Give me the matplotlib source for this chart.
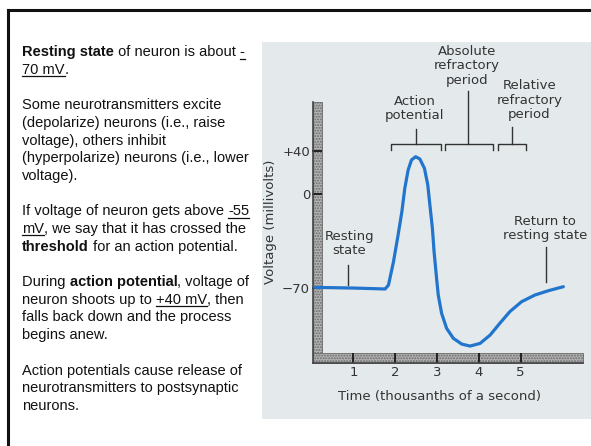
import matplotlib.pyplot as plt
from matplotlib.lines import Line2D
from matplotlib.patches import Rectangle
import numpy as np

# action potential trace
time_ms = [0.08, 1.00, 1.76, 1.84, 1.96, 2.07, 2.16, 2.23, 2.31, 2.39, 2.49, 2.59,
           2.70, 2.78, 2.83, 2.89, 2.93, 2.99, 3.03, 3.11, 3.23, 3.39, 3.59, 3.79,
           4.03, 4.27, 4.50, 4.74, 5.02, 5.34, 5.66, 6.02]
voltage_mv = [-69.5, -70, -70.7, -67.8, -50.4, -30.5, -13.2, 5.2, 22.1, 31.3, 34.3, 32.2,
              23.6, 8.3, -8.2, -25.5, -43, -62.8, -75.2, -88.8, -100, -107.4, -111.7, -113.2,
              -111.2, -105, -96.3, -87.6, -80.2, -75.2, -72, -69]

x_ticks = [1, 2, 3, 4, 5]
y_ticks = [-70, 0, 40]
y_tick_labels = ['\u221270', '0', '+40']

# bracket spans (time) with stem position and stem top (mV)
spans = [(1.91, 3.10, 2.50, 59.8), (3.19, 4.35, 3.75, 94.7), (4.45, 5.12, 4.80, 61.6)]

W, H = 591, 446
fig = plt.figure(figsize=(W / 100, H / 100), dpi=100)
renderer = fig.canvas.get_renderer()


def fx(x):
    return x / W


def fy(y):
    return 1 - y / H


# slide frame
fig.add_artist(Line2D([fx(8), fx(591)], [fy(10), fy(10)], color='#111', lw=2.2))
fig.add_artist(Line2D([fx(8), fx(8)], [fy(10), fy(446)], color='#111', lw=2.2))

# scanned figure background
fig.add_artist(Rectangle((fx(262), fy(419)), (591 - 262) / W, (419 - 42) / H,
                         facecolor='#e4eaec', edgecolor='none', zorder=0))

# left text with bold / underlined runs
lines = [
    [('Resting state', 'b'), (' of neuron is about ', ''), ('-', 'u')],
    [('70 mV', 'u'), ('.', '')],
    [],
    [('Some neurotransmitters excite', '')],
    [('(depolarize) neurons (i.e., raise', '')],
    [('voltage), others inhibit', '')],
    [('(hyperpolarize) neurons (i.e., lower', '')],
    [('voltage).', '')],
    [],
    [('If voltage of neuron gets above ', ''), ('-55', 'u')],
    [('mV', 'u'), (', we say that it has crossed the', '')],
    [('threshold', 'b'), (' for an action potential.', '')],
    [],
    [('During ', ''), ('action potential', 'b'), (', voltage of', '')],
    [('neuron shoots up to ', ''), ('+40 mV', 'u'), (', then', '')],
    [('falls back down and the process', '')],
    [('begins anew.', '')],
    [],
    [('Action potentials cause release of', '')],
    [('neurotransmitters to postsynaptic', '')],
    [('neurons.', '')],
]

y = 56
for parts in lines:
    x = 22
    for s, style in parts:
        t = fig.text(fx(x), fy(y), s, fontsize=10.5, family='Liberation Sans',
                     fontweight='bold' if 'b' in style else 'normal',
                     va='baseline', ha='left', color='#111')
        bb = t.get_window_extent(renderer)
        if 'u' in style:
            fig.add_artist(Line2D([fx(x), fx(x + bb.width)], [fy(y + 2.5), fy(y + 2.5)],
                                  color='#111', lw=0.9))
        x += bb.width
    y += 17.7

# chart
ax = fig.add_axes([311.5 / W, (H - 363) / H, 271.5 / W, 261 / H])
ax.patch.set_visible(False)


def fwd(v):
    v = np.asarray(v, float)
    return np.where(v >= 0, v * 1.0875, v * 1.343)


def inv(p):
    p = np.asarray(p, float)
    return np.where(p >= 0, p / 1.0875, p / 1.343)


# the textbook axis is not to scale: 0..+40 is squeezed relative to -70..0
ax.set_yscale('function', functions=(fwd, inv))
ax.set_xlim(0, 6.49)
ax.set_ylim(-125.8, 84.6)
for sp in ax.spines.values():
    sp.set_visible(False)

# stippled axis bars
ax.add_patch(Rectangle((0.0055, 0), 0.033, 1, transform=ax.transAxes,
                       facecolor='#b4b4b4', edgecolor='#6a6a6a', hatch='......', lw=0.6,
                       clip_on=False, zorder=1))
ax.add_patch(Rectangle((0.0055, 0), 0.9945, 0.0383, transform=ax.transAxes,
                       facecolor='#b4b4b4', edgecolor='#6a6a6a', hatch='......', lw=0.6,
                       clip_on=False, zorder=1))
ax.plot([0.0055, 0.0055], [0, 1], transform=ax.transAxes, color='#444', lw=1.2, clip_on=False)
ax.plot([0.0055, 1], [0, 0], transform=ax.transAxes, color='#444', lw=1.2, clip_on=False)

ax.plot(time_ms, voltage_mv, color='#2275cc', lw=2.3, solid_capstyle='round',
        solid_joinstyle='round', zorder=3, clip_on=False)

ax.set_xticks(x_ticks)
ax.set_yticks(y_ticks)
ax.set_yticklabels(y_tick_labels)
ax.tick_params(direction='in', length=7, width=1.4, color='#222',
               labelcolor='#333', labelsize=9.5)
ax.tick_params(axis='y', pad=1)
ax.tick_params(axis='x', pad=2)

ax.set_xlabel('Time (thousanths of a second)', fontsize=9.5, color='#333')
ax.xaxis.set_label_coords(0.473, -0.105)
ax.set_ylabel('Voltage (millivolts)', fontsize=9.5, color='#333')
ax.yaxis.set_label_coords(-0.127, 0.54)

# brackets
for x0, x1, xs, ytop in spans:
    ax.plot([x0, x0, x1, x1], [40.5, 46, 46, 40.5], color='#333', lw=1, clip_on=False)
    ax.plot([xs, xs], [46, ytop], color='#333', lw=1, clip_on=False)

tkw = dict(fontsize=9.5, color='#333', ha='center', va='center', linespacing=1.15)
ax.text(2.47, 78.6, 'Action\npotential', **tkw)
ax.text(3.72, 117.7, 'Absolute\nrefractory\nperiod', **tkw)
ax.text(5.21, 86.4, 'Relative\nrefractory\nperiod', **tkw)
ax.text(0.90, -36.9, 'Resting\nstate', **tkw)
ax.text(5.58, -25.7, 'Return to\nresting state', **tkw)
ax.plot([0.87, 0.87], [-52.9, -67.8], color='#333', lw=1)
ax.plot([5.60, 5.60], [-39.5, -65.5], color='#333', lw=1)

fig.savefig('out.png', dpi=100)
